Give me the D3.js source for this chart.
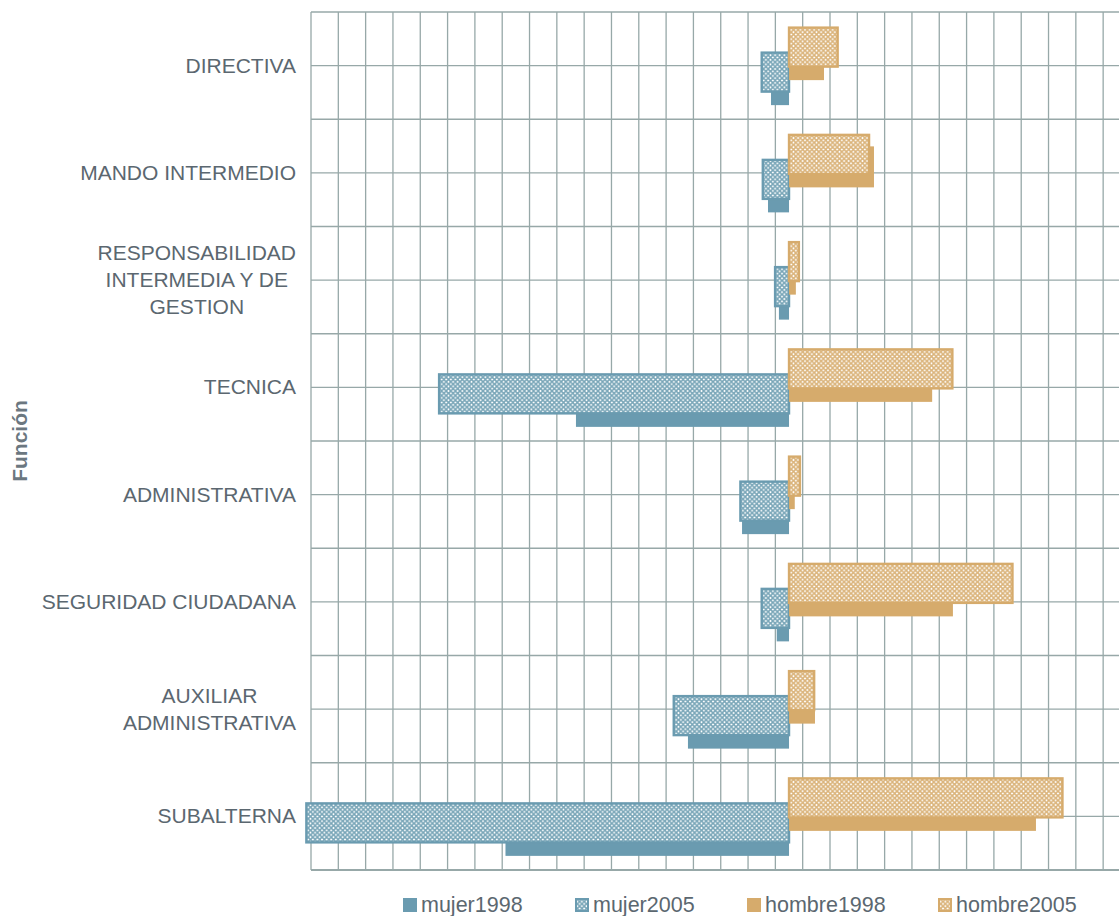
<!DOCTYPE html>
<html>
<head>
<meta charset="utf-8">
<script src="https://cdn.jsdelivr.net/npm/d3@7"></script>
<style>
  body { margin: 0; background: #fff; }
  svg { display: block; font-family: "Liberation Sans", Arial, sans-serif; }
</style>
</head>
<body>
<script>
var w = 1119;
var h = 916;

// categories, top to bottom ("\n" = line break in the label)
var categories = [
  "DIRECTIVA",
  "MANDO INTERMEDIO",
  "RESPONSABILIDAD\nINTERMEDIA Y DE\nGESTION",
  "TECNICA",
  "ADMINISTRATIVA",
  "SEGURIDAD CIUDADANA",
  "AUXILIAR\nADMINISTRATIVA",
  "SUBALTERNA"
];

var seriesNames = ["mujer1998", "mujer2005", "hombre1998", "hombre2005"];

// values, in grid units
var mujer1998 = [0.66, 0.77, 0.37, 7.80, 1.72, 0.45, 3.70, 10.38];
var mujer2005 = [1.00, 0.96, 0.51, 12.81, 1.78, 1.00, 4.22, 17.67];
var hombre1998 = [1.28, 3.11, 0.25, 5.24, 0.21, 6.00, 0.95, 9.04];
var hombre2005 = [1.78, 2.93, 0.36, 5.98, 0.40, 8.18, 0.92, 10.01];

var seriesValues = [mujer1998, mujer2005, hombre1998, hombre2005];

var margin = { top: 12, bottom: 46, left: 311, right: 0 };

var colMujer = "#6a9bb0";
var colHombre = "#d6ab6c";
var textCol = "#5b6770";

var x = d3.scaleLinear()
  .domain([-17.5, 12.08])
  .range([margin.left, w - margin.right]);

var y = d3.scaleBand()
  .domain(categories)
  .range([margin.top, h - margin.bottom]);

var svg = d3.select("body").append("svg")
  .attr("width", w)
  .attr("height", h);

var defs = svg.append("defs");

function makePattern(id, col) {
  var p = defs.append("pattern")
    .attr("id", id)
    .attr("patternUnits", "userSpaceOnUse")
    .attr("width", 4.6)
    .attr("height", 4.6);
  p.append("rect").attr("width", 4.6).attr("height", 4.6).attr("fill", "#fff");
  p.append("path")
    .attr("d", "M0,0L4.6,4.6M4.6,0L0,4.6")
    .attr("stroke", col)
    .attr("stroke-width", 1.5)
    .attr("stroke-opacity", 0.9);
}
makePattern("patMujer", colMujer);
makePattern("patHombre", colHombre);

// grid
var grid = svg.append("g");
grid.selectAll(".vline")
  .data(d3.range(-17.5, 12, 1))
  .enter()
  .append("line")
  .attr("x1", function (d) { return x(d); })
  .attr("x2", function (d) { return x(d); })
  .attr("y1", margin.top)
  .attr("y2", h - margin.bottom)
  .attr("stroke", "#97a8a8")
  .attr("stroke-width", 1.3);

var hl = [];
categories.forEach(function (c) {
  hl.push(y(c));
  hl.push(y(c) + y.bandwidth() / 2);
});
hl.push(h - margin.bottom);

grid.selectAll(".hline")
  .data(hl)
  .enter()
  .append("line")
  .attr("x1", margin.left)
  .attr("x2", w)
  .attr("y1", function (d) { return d; })
  .attr("y2", function (d) { return d; })
  .attr("stroke", "#97a8a8")
  .attr("stroke-width", function (d, i) { return i == hl.length - 1 ? 2 : 1.3; });

// bars: series offsets inside each band (top edge relative to band centre)
var barTop = [-1.5, -14, -26.5, -39];
var barH = 41;

var chart = svg.append("g");
seriesNames.forEach(function (s, si) {
  var isMujer = si < 2;
  var hatched = si % 2 == 1;
  var col = isMujer ? colMujer : colHombre;
  chart.selectAll(".bar" + si)
    .data(seriesValues[si])
    .enter()
    .append("rect")
    .attr("x", function (d) { return isMujer ? x(-d) : x(0); })
    .attr("width", function (d) { return x(d) - x(0); })
    .attr("y", function (d, i) {
      return y(categories[i]) + y.bandwidth() / 2 + barTop[si] + (hatched ? 1 : 0);
    })
    .attr("height", hatched ? barH - 2 : barH)
    .attr("fill", hatched ? (isMujer ? "url(#patMujer)" : "url(#patHombre)") : col)
    .attr("stroke", hatched ? col : "none")
    .attr("stroke-width", hatched ? 2.4 : 0);
});

// category labels: right aligned block, lines centred
var labels = svg.append("g");
categories.forEach(function (c) {
  var lines = c.split("\n");
  var cy = y(c) + y.bandwidth() / 2;
  var lh = 27;
  var t = labels.append("g");
  var texts = lines.map(function (l, i) {
    return t.append("text")
      .attr("y", cy + (i - (lines.length - 1) / 2) * lh + 7)
      .attr("fill", textCol)
      .attr("font-size", 21)
      .attr("text-anchor", "middle")
      .text(l);
  });
  var maxW = d3.max(texts, function (tx) { return tx.node().getComputedTextLength(); });
  texts.forEach(function (tx) { tx.attr("x", 296 - maxW / 2); });
});

// axis title
svg.append("text")
  .attr("transform", "translate(27,441) rotate(-90)")
  .attr("text-anchor", "middle")
  .attr("font-size", 21)
  .attr("font-weight", "bold")
  .attr("fill", "#6b7780")
  .text("Función");

// legend
var legendX = [403, 575, 747, 938];
var legend = svg.append("g");
seriesNames.forEach(function (s, si) {
  var isMujer = si < 2;
  var hatched = si % 2 == 1;
  var col = isMujer ? colMujer : colHombre;
  legend.append("rect")
    .attr("x", legendX[si] + (hatched ? 1 : 0))
    .attr("y", 898 + (hatched ? 1 : 0))
    .attr("width", hatched ? 12 : 14)
    .attr("height", hatched ? 12 : 14)
    .attr("fill", hatched ? (isMujer ? "url(#patMujer)" : "url(#patHombre)") : col)
    .attr("stroke", hatched ? col : "none")
    .attr("stroke-width", 2);
  legend.append("text")
    .attr("x", legendX[si] + 18)
    .attr("y", 912)
    .attr("font-size", 21.5)
    .attr("fill", textCol)
    .text(s);
});
</script>
</body>
</html>
